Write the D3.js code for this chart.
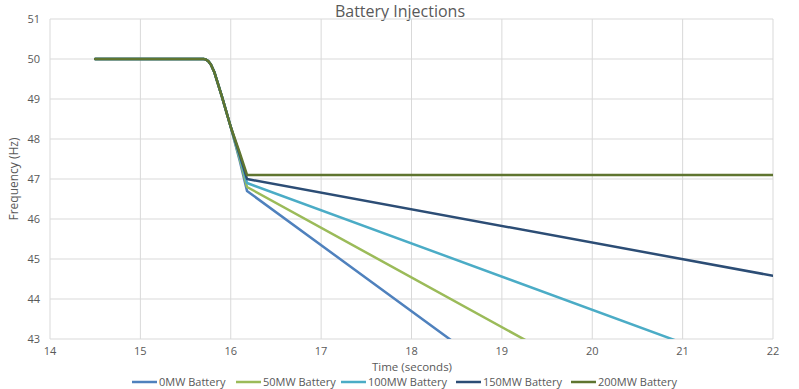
<!DOCTYPE html>
<html>
<head>
<meta charset="utf-8">
<script src="https://cdn.jsdelivr.net/npm/d3@7"></script>
<style>
  body { margin: 0; background: #fff; }
  text { font-family: "Open Sans", "Liberation Sans", sans-serif; fill: #595959; }
</style>
</head>
<body>
<svg id="chart" width="799" height="389"></svg>
<script>
// time points (seconds)
const times = [14.5, 15.7, 15.72, 15.75, 15.78, 15.82, 15.9, 16.0, 16.1, 16.18, 22]

// frequency (Hz) per battery size
const names = ['0MW Battery', '50MW Battery', '100MW Battery', '150MW Battery', '200MW Battery']
const freq0 = [50, 50, 49.99, 49.95, 49.86, 49.66, 49.08, 48.3, 47.45, 46.7, 37.09]
const freq50 = [50, 50, 49.99, 49.95, 49.86, 49.66, 49.08, 48.3, 47.5, 46.8, 39.57]
const freq100 = [50, 50, 49.99, 49.95, 49.86, 49.66, 49.08, 48.3, 47.55, 46.9, 42.07]
const freq150 = [50, 50, 49.99, 49.95, 49.86, 49.66, 49.08, 48.3, 47.6, 47.0, 44.58]
const freq200 = [50, 50, 49.99, 49.95, 49.86, 49.66, 49.08, 48.3, 47.65, 47.1, 47.1]
const colors = ['#4f81bd', '#9bbb59', '#4bacc6', '#2c4d75', '#5f7530']

const xTicks = [14, 15, 16, 17, 18, 19, 20, 21, 22]
const yTicks = [43, 44, 45, 46, 47, 48, 49, 50, 51]

const series = [freq0, freq50, freq100, freq150, freq200].map((vals, i) => ({
    name: names[i],
    color: colors[i],
    points: vals.map((v, j) => ({ t: times[j], f: v }))
}))

const svg = d3.select('#chart')
const margin = { top: 19, right: 26, bottom: 50, left: 50 }
const width = 799, height = 389
const innerW = width - margin.left - margin.right
const innerH = height - margin.top - margin.bottom

const x = d3.scaleLinear().domain([14, 22]).range([margin.left, margin.left + innerW])
const y = d3.scaleLinear().domain([43, 51]).range([margin.top + innerH, margin.top])

// title
svg.append('text')
    .attr('x', 400).attr('y', 17)
    .attr('text-anchor', 'middle')
    .style('font-size', '16px')
    .text('Battery Injections')

// grid lines
svg.append('g')
    .selectAll('line')
    .data(yTicks)
    .join('line')
    .attr('x1', x(14)).attr('x2', x(22))
    .attr('y1', d => y(d)).attr('y2', d => y(d))
    .attr('stroke', '#d9d9d9')
    .attr('stroke-width', 1)

svg.append('g')
    .selectAll('line')
    .data(xTicks)
    .join('line')
    .attr('y1', y(43)).attr('y2', y(51))
    .attr('x1', d => x(d)).attr('x2', d => x(d))
    .attr('stroke', '#d9d9d9')
    .attr('stroke-width', 1)

// tick labels
svg.append('g')
    .selectAll('text')
    .data(yTicks)
    .join('text')
    .attr('x', margin.left - 10)
    .attr('y', d => y(d) + 4)
    .attr('text-anchor', 'end')
    .style('font-size', '11px')
    .text(d => d)

svg.append('g')
    .selectAll('text')
    .data(xTicks)
    .join('text')
    .attr('x', d => x(d))
    .attr('y', y(43) + 16)
    .attr('text-anchor', 'middle')
    .style('font-size', '11px')
    .text(d => d)

// axis titles
svg.append('text')
    .attr('transform', 'translate(18,' + (margin.top + innerH / 2) + ')rotate(-90)')
    .attr('text-anchor', 'middle')
    .style('font-size', '12px')
    .text('Frequency (Hz)')

svg.append('text')
    .attr('x', 412).attr('y', 371)
    .attr('text-anchor', 'middle')
    .style('font-size', '11.5px')
    .text('Time (seconds)')

// clip to plot area
svg.append('clipPath').attr('id', 'plotclip')
    .append('rect')
    .attr('x', x(14)).attr('y', y(51))
    .attr('width', innerW).attr('height', innerH)

const line = d3.line()
    .x(d => x(d.t))
    .y(d => y(d.f))

svg.append('g')
    .attr('clip-path', 'url(#plotclip)')
    .selectAll('path')
    .data(series)
    .join('path')
    .attr('d', d => line(d.points))
    .attr('fill', 'none')
    .attr('stroke', d => d.color)
    .attr('stroke-width', 2.5)
    .attr('stroke-linecap', 'round')
    .attr('stroke-linejoin', 'round')

// legend
const legendX = [132, 236, 341, 456, 571]
const legend = svg.append('g')
    .selectAll('g')
    .data(series)
    .join('g')
    .attr('transform', (d, i) => 'translate(' + legendX[i] + ',382)')

legend.append('line')
    .attr('x1', 0).attr('x2', 25)
    .attr('stroke', d => d.color)
    .attr('stroke-width', 2.5)

legend.append('text')
    .attr('x', 27).attr('y', 4)
    .style('font-size', '11px')
    .text(d => d.name)
</script>
</body>
</html>
